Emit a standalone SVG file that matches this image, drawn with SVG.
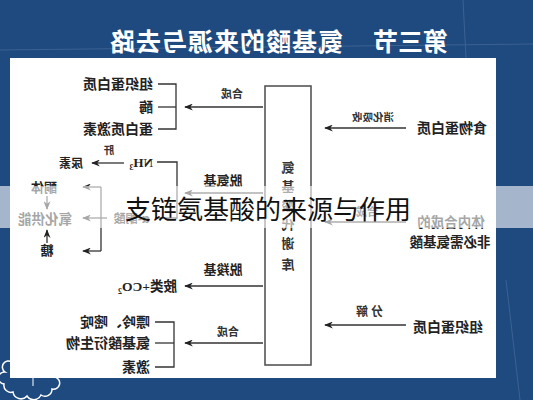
<svg xmlns="http://www.w3.org/2000/svg" width="533" height="400" viewBox="0 0 533 400">
<defs>
<marker id="ah" viewBox="0 0 10 8" refX="9" refY="4" markerWidth="9" markerHeight="7" markerUnits="userSpaceOnUse" orient="auto">
<path d="M0,0 L10,4 L0,8 L3,4 z" fill="#222"/>
</marker>
<style>
.t{font-family:"Noto Sans CJK SC","Noto Sans",sans-serif;font-weight:700;fill:#222}
.s{font-family:"Noto Sans CJK SC","Noto Sans",sans-serif;font-weight:700;fill:#333}
.f{font-family:"Liberation Serif",serif;font-weight:700;fill:#222}
.c{stroke:#333;stroke-width:1.3;fill:none}
.a{stroke:#333;stroke-width:1.3;fill:none;marker-end:url(#ah)}
</style>
</defs>
<rect x="0" y="0" width="533" height="400" fill="#1f4a80"/>
<g stroke="#6f8fb8" stroke-width="1" opacity="0.35" fill="none">
<line x1="0" y1="50" x2="533" y2="44"/>
<line x1="463" y1="0" x2="466" y2="58"/>
<line x1="506" y1="280" x2="520" y2="400"/>
</g>
<path d="M12,362 a6,6 0 0 0 -7,10 a6,6 0 0 0 -1,12 a7,7 0 0 0 9,8 a8,8 0 0 0 14,4 a8,8 0 0 0 14,-1 a7,7 0 0 0 11,-6 a6,6 0 0 0 3,-12 a6,6 0 0 0 -6,-8 z" fill="none" stroke="#ffffff" stroke-width="1.5"/>
<line x1="33" y1="378" x2="33" y2="386" stroke="#ffffff" stroke-width="1"/>
<rect x="10" y="58" width="486" height="320" fill="#ffffff"/>
<g transform="matrix(-1 0 0 1 533 0)">
<text x="85" y="51" font-family="Noto Sans CJK SC,sans-serif" font-weight="700" font-size="25" fill="#ffffff">第三节</text>
<text x="190" y="51" font-family="Noto Sans CJK SC,sans-serif" font-weight="700" font-size="25" fill="#ffffff" textLength="233">氨基酸的来源与去路</text>

<g id="connectors">
<line class="a" x1="127" y1="128" x2="208" y2="128"/>
<line class="a" x1="127" y1="222" x2="208" y2="222"/>
<line class="a" x1="127" y1="325" x2="208" y2="325"/>
<line class="a" x1="270" y1="107" x2="348" y2="107"/>
<polyline class="c" points="375,84 357,84 357,129 375,129"/>
<line class="c" x1="357" y1="107" x2="375" y2="107"/>
<polyline class="c" points="376,162 356,162 356,218 378,218"/>
<line class="a" x1="270" y1="193" x2="348" y2="193"/>
<line class="a" x1="409" y1="163" x2="441" y2="163"/>
<line class="c" x1="432" y1="187" x2="432" y2="251"/>
<line class="a" x1="432" y1="187" x2="450" y2="187"/>
<line class="a" x1="426" y1="218" x2="450" y2="218"/>
<line class="a" x1="432" y1="251" x2="450" y2="251"/>
<line class="a" x1="486" y1="196" x2="486" y2="209"/>
<line class="a" x1="486" y1="243" x2="486" y2="230"/>
<line class="a" x1="270" y1="286" x2="348" y2="286"/>
<line class="a" x1="270" y1="343" x2="348" y2="343"/>
<polyline class="c" points="378,322 359,322 359,367 378,367"/>
<line class="c" x1="359" y1="343" x2="378" y2="343"/>
</g>

<g id="pool">
<rect x="222" y="86" width="46" height="279" fill="#ffffff" stroke="#555" stroke-width="1.6"/>
<g class="s" font-size="13" text-anchor="middle" fill="#444">
<text x="245" y="172">氨</text>
<text x="245" y="191">基</text>
<text x="245" y="210">酸</text>
<text x="245" y="229">代</text>
<text x="245" y="248">谢</text>
<text x="245" y="269">库</text>
</g>
</g>

<g id="food-protein"><text class="t" x="46" y="133" font-size="14">食物蛋白质</text></g>
<g id="label-digest"><text class="s" x="160" y="121" font-size="10.5" text-anchor="middle">消化吸收</text></g>
<g id="nonessential">
<text class="t" x="82" y="227" font-size="13.5" text-anchor="middle">体内合成的</text>
<text class="t" x="83" y="247" font-size="13.5" text-anchor="middle">非必需氨基酸</text>
</g>
<g id="label-synth-in"><text class="s" x="166" y="216" font-size="11" text-anchor="middle">合成</text></g>
<g id="tissue-protein-in"><text class="t" x="50" y="332" font-size="14">组织蛋白质</text></g>
<g id="label-decompose"><text class="s" x="165" y="316" font-size="12" text-anchor="middle" letter-spacing="3">分解</text></g>

<g id="label-synth-top"><text class="s" x="301" y="98" font-size="11" text-anchor="middle">合成</text></g>
<g id="products-top">
<text class="t" x="380" y="89" font-size="14">组织蛋白质</text>
<text class="t" x="380" y="112" font-size="14">酶</text>
<text class="t" x="380" y="134" font-size="14">蛋白质激素</text>
</g>
<g id="label-deamination"><text class="t" x="310" y="185" font-size="13" text-anchor="middle">脱氨基</text></g>
<g id="nh3"><text class="f" x="380" y="167" font-size="13">NH<tspan font-size="8" dy="3">3</tspan></text></g>
<g id="label-liver"><text class="s" x="424" y="154" font-size="10.5" text-anchor="middle">肝</text></g>
<g id="urea"><text class="t" x="450" y="168" font-size="12">尿素</text></g>
<g id="keto-acid"><text class="t" x="383" y="223" font-size="12">α-酮酸</text></g>
<g id="ketone"><text class="t" x="489" y="192" font-size="13" text-anchor="middle">酮体</text></g>
<g id="oxidation"><text class="t" x="488" y="224" font-size="13.5" text-anchor="middle">氧化供能</text></g>
<g id="sugar"><text class="t" x="486" y="255" font-size="13" text-anchor="middle">糖</text></g>
<g id="label-decarboxylation"><text class="t" x="310" y="274" font-size="13" text-anchor="middle">脱羧基</text></g>
<g id="amines"><text class="t" x="356" y="291" font-size="13.5">胺类<tspan class="f">+CO</tspan><tspan class="f" font-size="8" dy="3">2</tspan></text></g>
<g id="label-synth-bottom"><text class="s" x="305" y="336" font-size="11" text-anchor="middle">合成</text></g>
<g id="products-bottom">
<text class="t" x="383" y="327" font-size="14">嘌呤、嘧啶</text>
<text class="t" x="383" y="348" font-size="14">氨基酸衍生物</text>
<text class="t" x="383" y="372" font-size="14">激素</text>
</g>
</g>

<rect x="0" y="186" width="533" height="42" fill="#ffffff" opacity="0.6"/>
<text x="125" y="219" font-family="Noto Sans CJK SC,sans-serif" font-size="26" fill="#111">支链氨基酸的来源与作用</text>
</svg>
